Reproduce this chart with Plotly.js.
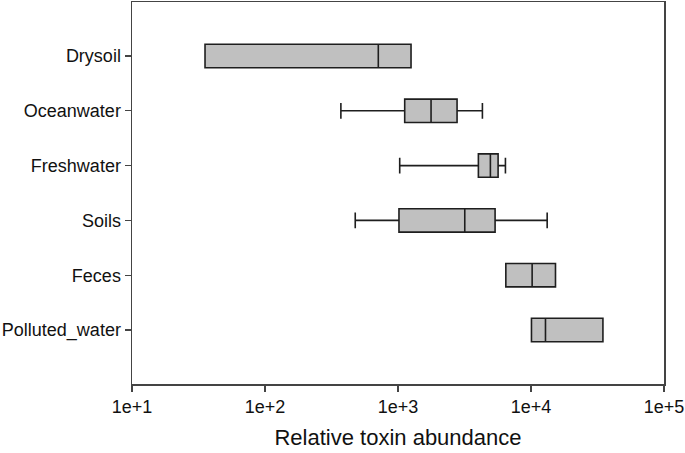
<!DOCTYPE html>
<html><head><meta charset="utf-8">
<script src="https://cdn.plot.ly/plotly-3.0.1.min.js"></script>
<style>html,body{margin:0;padding:0;background:#fff}#chart{width:685px;height:453px}</style>
</head><body><div id="chart"></div>
<script>
const categories = ["Drysoil","Oceanwater","Freshwater","Soils","Feces","Polluted_water"];
const lowerWhisker = [35.4, 372, 1030, 477, 6468, 10080];
const q1Values     = [35.4, 1123, 4021, 1017, 6468, 10080];
const medianValues = [711, 1772, 4951, 3177, 10200, 12850];
const q3Values     = [1253, 2780, 5658, 5370, 15280, 34740];
const upperWhisker = [1253, 4312, 6423, 13230, 15280, 34740];
const tickValues = [10, 100, 1000, 10000, 100000];
const tickLabels = ["1e+1","1e+2","1e+3","1e+4","1e+5"];

const trace = {
  type: "box", orientation: "h",
  y: categories,
  q1: q1Values, median: medianValues, q3: q3Values,
  lowerfence: lowerWhisker, upperfence: upperWhisker,
  fillcolor: "#c0c0c0",
  line: {color: "#1e1e1e", width: 1.6},
  whiskerwidth: 0.67,
  boxpoints: false,
  hoverinfo: "skip"
};
const font = {family: "Liberation Sans, Arial, sans-serif", color: "#111"};
const layout = {
  width: 685, height: 453,
  margin: {l: 132, r: 21, t: 2, b: 69},
  paper_bgcolor: "#fff", plot_bgcolor: "#fff",
  showlegend: false,
  boxgap: 0.39,
  font: font,
  xaxis: {
    type: "log", range: [1, 5],
    tickvals: tickValues, ticktext: tickLabels,
    ticks: "outside", ticklen: 6, tickwidth: 1.3, tickcolor: "#444",
    showline: true, linecolor: "#444", linewidth: 1.5, mirror: true,
    showgrid: false, zeroline: false,
    tickfont: {family: font.family, size: 18, color: "#111"},
    title: {text: "Relative toxin abundance", font: {family: font.family, size: 22, color: "#111"}, standoff: 13}
  },
  yaxis: {
    type: "category", categoryorder: "array", categoryarray: categories,
    range: [5.985, -0.985],
    ticks: "outside", ticklen: 6, tickwidth: 1.3, tickcolor: "#444",
    showline: true, linecolor: "#444", linewidth: 1.5, mirror: true,
    showgrid: false, zeroline: false,
    tickfont: {family: font.family, size: 18, color: "#111"}
  }
};
Plotly.newPlot("chart", [trace], layout, {displayModeBar: false, staticPlot: true});
</script></body></html>
